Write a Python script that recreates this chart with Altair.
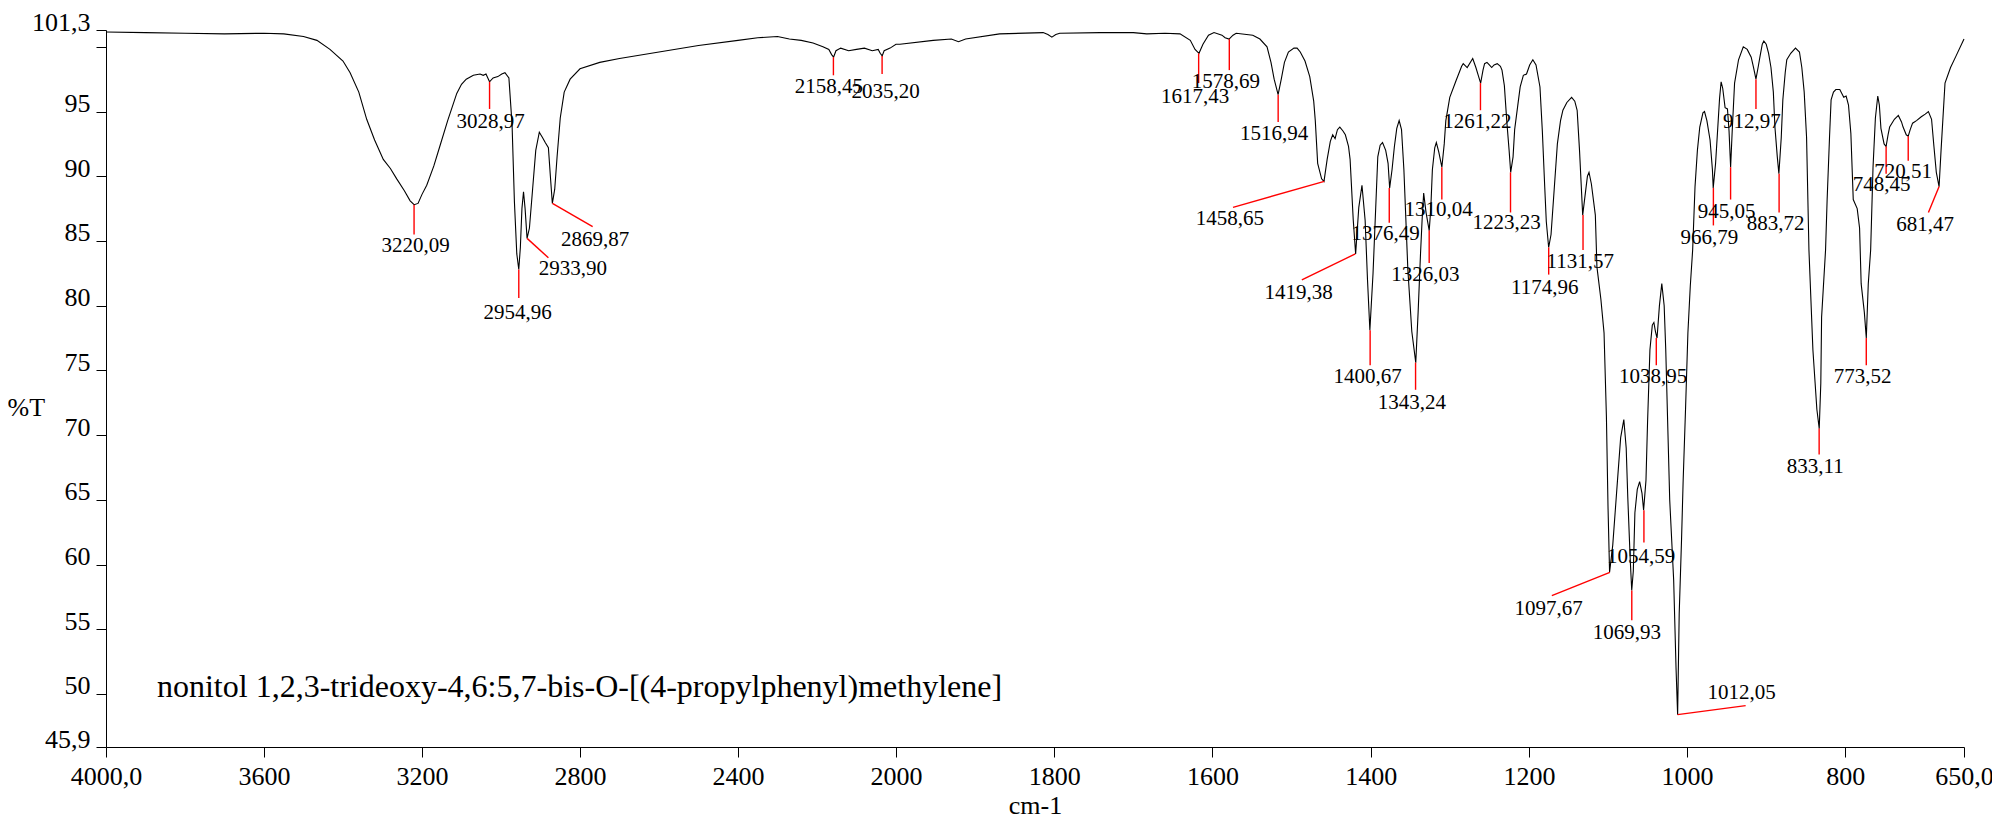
import altair as alt
import pandas as pd

# ---- spectrum (wavenumber cm-1, %T) ----
WN = [4000, 3900, 3800, 3700, 3600, 3550, 3500, 3466, 3433, 3400, 3382, 3360, 3340, 3320, 3298,
      3280, 3264, 3245, 3230, 3220, 3210, 3200, 3188, 3170, 3155, 3135, 3112, 3100, 3088, 3070,
      3053, 3045, 3038, 3029, 3020, 3008, 2998, 2990, 2980, 2972, 2966, 2960, 2955, 2951, 2947,
      2943, 2939, 2934, 2928, 2920, 2912, 2903, 2895, 2888, 2880, 2875, 2870, 2864, 2858, 2850,
      2840, 2825, 2800, 2750, 2700, 2600, 2500, 2400, 2350, 2300, 2270, 2240, 2210, 2185, 2170,
      2163, 2158, 2152, 2140, 2120, 2100, 2080, 2060, 2045, 2040, 2035, 2030, 2015, 2000, 1995,
      1953, 1930, 1921, 1912, 1869, 1814, 1808, 1803, 1798, 1793, 1742, 1700, 1683, 1660, 1641,
      1628, 1622, 1617, 1612, 1605, 1598, 1588, 1584, 1579, 1574, 1570, 1549, 1540, 1531, 1526,
      1522, 1517, 1513, 1509, 1504, 1497, 1493, 1489, 1483, 1477, 1472, 1470, 1467, 1462, 1459,
      1455, 1451, 1448, 1445, 1442, 1439, 1435, 1432, 1428, 1426, 1422, 1419, 1415, 1411, 1407,
      1404, 1401, 1397, 1394, 1391, 1388, 1385, 1381, 1378, 1376, 1373, 1370, 1367, 1364, 1361,
      1358, 1353, 1348, 1343, 1340, 1337, 1335, 1333, 1330, 1326, 1324, 1322, 1319, 1317, 1314,
      1310, 1307, 1305, 1300, 1292, 1285, 1283, 1278, 1271, 1267, 1264, 1261, 1258, 1256, 1253,
      1250, 1247, 1244, 1240, 1236, 1234, 1231, 1228, 1225, 1223, 1220, 1218, 1214, 1211, 1207,
      1203, 1199, 1195, 1191, 1186, 1183, 1180, 1178, 1175, 1172, 1168, 1164, 1160, 1157, 1152,
      1146, 1142, 1139, 1136, 1132, 1129, 1126, 1124, 1121, 1116, 1114, 1109, 1105, 1102, 1100,
      1098, 1094, 1091, 1088, 1084, 1080, 1077, 1075, 1072, 1070, 1068, 1066, 1063, 1060, 1057,
      1055, 1052, 1050, 1047, 1044, 1042, 1040, 1038, 1035, 1032, 1029, 1027, 1022, 1017, 1014,
      1012, 1010, 1007, 1005, 1002, 999, 996, 993, 990, 987, 984, 980, 978, 975, 971,
      968, 967, 964, 962, 959, 957, 955, 952, 949, 947, 945, 943, 940, 935, 929,
      924, 919, 916, 913, 910, 908, 905, 903, 900, 897, 894, 891, 889, 886, 884,
      881, 879, 876, 874, 869, 863, 858, 855, 852, 849, 846, 841, 836, 833, 831,
      830, 825, 823, 820, 818, 815, 812, 807, 802, 799, 796, 793, 790, 785, 782,
      780, 776, 773.5, 771, 768, 765, 762, 759, 757, 755, 751, 748.5, 746, 744, 738,
      733, 729, 727, 723, 720.5, 718, 715, 710, 704, 699, 695, 691, 688, 685, 681.5,
      679, 674, 667, 660, 650]
T = [101.15, 101.1, 101.05, 101.0, 101.05, 101.0, 100.8, 100.5, 99.8, 98.9, 98.0, 96.5, 94.4, 92.8, 91.3,
     90.6, 89.8, 88.9, 88.1, 87.8, 87.9, 88.6, 89.3, 90.8, 92.3, 94.3, 96.4, 97.1, 97.5, 97.8,
     97.9, 97.8, 97.9, 97.3, 97.6, 97.7, 97.9, 98.0, 97.6, 94.0, 88.0, 84.0, 82.8, 84.5, 87.5,
     88.8, 87.5, 85.2, 86.0, 89.0, 92.0, 93.4, 93.0, 92.6, 92.2, 90.0, 87.9, 89.0, 91.5, 94.5,
     96.5, 97.5, 98.3, 98.8, 99.1, 99.6, 100.1, 100.5, 100.7, 100.8, 100.6, 100.5, 100.3, 100.0, 99.8,
     99.4, 99.2, 99.7, 99.9, 99.7, 99.8, 99.9, 99.7, 99.8, 99.5, 99.3, 99.7, 99.9, 100.2, 100.2,
     100.5, 100.6, 100.4, 100.6, 101.0, 101.1, 100.95, 100.75, 100.95, 101.05, 101.1, 101.1, 101.0, 101.05, 101.0,
     100.5, 99.8, 99.5, 100.2, 100.9, 101.1, 100.9, 100.7, 100.6, 100.9, 101.05, 100.9, 100.6, 100.0, 98.8,
     97.5, 96.3, 97.5, 98.8, 99.6, 99.9, 99.9, 99.6, 98.9, 97.7, 95.8, 94.3, 91.0, 89.8, 89.6,
     91.3, 92.7, 93.2, 92.9, 93.6, 93.8, 93.5, 93.2, 92.3, 91.3, 86.6, 84.0, 87.6, 89.3, 86.6,
     82.0, 78.1, 82.5, 87.0, 91.5, 92.4, 92.6, 92.0, 91.0, 89.1, 90.5, 92.3, 93.7, 94.3, 93.6,
     90.5, 82.8, 78.0, 75.6, 79.5, 84.0, 86.6, 88.7, 87.2, 85.8, 87.5, 90.5, 92.2, 92.6, 91.9,
     90.7, 92.5, 94.3, 96.1, 97.4, 98.5, 98.7, 98.4, 99.1, 98.4, 97.8, 97.2, 98.2, 98.7, 98.8,
     98.6, 98.4, 98.6, 98.7, 98.5, 98.2, 97.0, 94.3, 92.0, 90.3, 91.5, 93.6, 95.5, 96.9, 97.8,
     97.9, 98.6, 99.0, 98.6, 96.9, 93.5, 89.2, 86.5, 84.5, 85.5, 89.0, 92.5, 94.3, 95.1, 95.7,
     96.1, 95.8, 95.1, 92.0, 87.0, 88.5, 90.0, 90.3, 89.4, 87.0, 83.0, 80.5, 77.9, 71.4, 64.5,
     59.4, 61.5, 64.0, 66.5, 69.8, 71.2, 69.0, 65.2, 60.5, 58.0, 59.5, 64.0, 65.8, 66.4, 65.5,
     64.2, 66.5, 71.0, 76.6, 78.5, 78.7, 78.0, 77.5, 80.0, 81.7, 80.0, 76.6, 65.0, 58.8, 52.0,
     48.4, 56.2, 62.0, 66.5, 72.0, 77.9, 81.5, 84.3, 89.2, 92.0, 93.8, 94.9, 95.0, 94.3, 92.8,
     90.5, 89.1, 91.0, 93.0, 96.0, 97.3, 96.8, 95.3, 95.2, 93.5, 90.7, 93.5, 97.2, 99.0, 100.0,
     99.8, 99.2, 98.4, 97.5, 98.5, 99.2, 100.2, 100.45, 100.2, 99.5, 98.4, 96.5, 93.8, 91.5, 90.2,
     93.0, 95.9, 98.0, 99.0, 99.5, 99.9, 99.6, 98.4, 96.5, 93.0, 84.3, 76.6, 72.0, 70.5, 74.0,
     79.1, 84.3, 88.2, 93.0, 95.9, 96.5, 96.7, 96.7, 96.1, 96.2, 95.5, 93.3, 88.2, 87.5, 86.0,
     81.7, 79.5, 77.5, 81.7, 84.3, 90.7, 94.5, 96.2, 95.5, 93.7, 92.5, 92.3, 93.2, 93.8, 94.4,
     94.7, 94.2, 93.8, 93.2, 93.1, 93.6, 94.1, 94.3, 94.6, 94.8, 95.0, 94.4, 92.3, 90.3, 89.2,
     92.0, 97.2, 98.4, 99.3, 100.6]

# ---- peak annotations ----
PEAK_LABEL = ["3220,09", "3028,97", "2954,96", "2933,90", "2869,87", "2158,45", "2035,20",
              "1617,43", "1578,69", "1516,94", "1458,65", "1419,38", "1400,67", "1376,49",
              "1343,24", "1326,03", "1310,04", "1261,22", "1223,23", "1174,96", "1131,57",
              "1097,67", "1069,93", "1054,59", "1038,95", "1012,05", "966,79", "945,05",
              "912,97", "883,72", "833,11", "773,52", "748,45", "720,51", "681,47"]
PEAK_WN = [3220.09, 3028.97, 2954.96, 2933.90, 2869.87, 2158.45, 2035.20,
           1617.43, 1578.69, 1516.94, 1458.65, 1419.38, 1400.67, 1376.49,
           1343.24, 1326.03, 1310.04, 1261.22, 1223.23, 1174.96, 1131.57,
           1097.67, 1069.93, 1054.59, 1038.95, 1012.05, 966.79, 945.05,
           912.97, 883.72, 833.11, 773.52, 748.45, 720.51, 681.47]
PEAK_T = [87.8, 97.3, 82.8, 85.2, 87.9, 99.2, 99.3,
          99.5, 100.6, 96.3, 89.6, 84.0, 78.1, 89.1,
          75.6, 85.8, 90.7, 97.2, 90.3, 84.5, 87.0,
          59.4, 58.0, 64.2, 77.5, 48.4, 89.1, 90.7,
          97.5, 90.2, 70.5, 77.5, 92.3, 93.1, 89.2]
LEAD_WN = [3220.09, 3028.97, 2954.96, 2880.0, 2768.0, 2158.45, 2035.20,
           1617.43, 1578.69, 1516.94, 1574.0, 1487.0, 1400.67, 1376.49,
           1343.24, 1326.03, 1310.04, 1261.22, 1223.23, 1174.96, 1131.57,
           1171.0, 1069.93, 1054.59, 1038.95, 926.0, 966.79, 945.05,
           912.97, 883.72, 833.11, 773.52, 748.45, 720.51, 695.0]
LEAD_T = [85.5, 95.2, 80.6, 83.7, 86.1, 97.8, 97.9,
          97.2, 98.2, 94.2, 87.6, 82.0, 75.4, 86.4,
          73.5, 83.3, 88.2, 95.1, 87.2, 82.4, 84.3,
          57.6, 55.7, 61.7, 75.4, 49.1, 86.2, 88.2,
          95.2, 87.2, 68.5, 75.4, 90.2, 91.2, 87.2]
TEXT_WN = [3216, 3026, 2958, 2818, 2762, 2170, 2026,
           1622, 1583, 1522, 1578, 1491, 1404, 1381,
           1348, 1331, 1314, 1265, 1228, 1180, 1135,
           1175, 1076, 1058, 1043, 931, 972, 950,
           918, 888, 838, 778, 754, 727, 699]
TEXT_T = [84.6, 94.2, 79.4, 82.8, 85.1, 96.9, 96.5,
          96.1, 97.3, 93.3, 86.7, 81.0, 74.5, 85.5,
          72.5, 82.4, 87.4, 94.2, 86.4, 81.4, 83.4,
          56.6, 54.7, 60.6, 74.5, 50.1, 85.2, 87.2,
          94.2, 86.3, 67.5, 74.5, 89.3, 90.3, 86.2]

X_TICKS = [4000, 3600, 3200, 2800, 2400, 2000, 1800, 1600, 1400, 1200, 1000, 800, 650]
Y_TICKS = [45.9, 50, 55, 60, 65, 70, 75, 80, 85, 90, 95, 100, 101.3]
SAMPLE = ["nonitol 1,2,3-trideoxy-4,6:5,7-bis-O-[(4-propylphenyl)methylene]"]
SAMPLE_WN = [3871]
SAMPLE_T = [49.75]

FONT = "Liberation Serif"

spec = pd.DataFrame({"wn": WN, "t": T})
peaks = pd.DataFrame({"label": PEAK_LABEL, "pwn": PEAK_WN, "pt": PEAK_T,
                      "lwn": LEAD_WN, "lt": LEAD_T, "twn": TEXT_WN, "tt": TEXT_T})
sample = pd.DataFrame({"txt": SAMPLE, "wn": SAMPLE_WN, "t": SAMPLE_T})

xscale = alt.Scale(domain=[4000, 2000, 650], range=[0, 790, 1858], nice=False, zero=False)
yscale = alt.Scale(domain=[45.9, 101.3], nice=False, zero=False)

xaxis = alt.Axis(values=X_TICKS,
                 labelExpr="datum.value == 4000 ? '4000,0' : datum.value == 650 ? '650,0' : '' + datum.value",
                 title="cm-1", grid=False, tickSize=10, labelPadding=6, labelFlush=False,
                 labelOverlap=False, labelFontSize=26, titleFontSize=26, titleFontWeight="normal",
                 titleY=66, titleBaseline="alphabetic")
yaxis = alt.Axis(values=Y_TICKS,
                 labelExpr="datum.value == 45.9 ? '45,9' : datum.value == 101.3 ? '101,3' : datum.value == 100 ? '' : '' + datum.value",
                 title="%T", grid=False, tickSize=10, labelPadding=6, labelFlush=False,
                 labelOverlap=False, labelBaseline="alphabetic", labelFontSize=26,
                 titleFontSize=26, titleFontWeight="normal", titleAngle=0, titleAlign="left",
                 titleX=-99, titleY=385, titleBaseline="alphabetic")

line = alt.Chart(spec).mark_line(color="black", strokeWidth=1.1).encode(
    x=alt.X("wn:Q", scale=xscale, axis=xaxis),
    y=alt.Y("t:Q", scale=yscale, axis=yaxis),
    order=alt.Order("wn:Q", sort="descending"),
)

leaders = alt.Chart(peaks).mark_rule(color="#ff0000", strokeWidth=1.4).encode(
    x=alt.X("pwn:Q", scale=xscale), y=alt.Y("pt:Q", scale=yscale),
    x2="lwn:Q", y2="lt:Q",
)

texts = alt.Chart(peaks).mark_text(font=FONT, fontSize=21, align="center", baseline="middle",
                                   color="black").encode(
    x=alt.X("twn:Q", scale=xscale), y=alt.Y("tt:Q", scale=yscale), text="label:N",
)

sample_text = alt.Chart(sample).mark_text(font=FONT, fontSize=32, align="left",
                                          baseline="alphabetic", color="black").encode(
    x=alt.X("wn:Q", scale=xscale), y=alt.Y("t:Q", scale=yscale), text="txt:N",
)

chart = alt.layer(line, leaders, texts, sample_text).properties(
    width=1858, height=717,
    autosize=alt.AutoSizeParams(type="none"),
    padding={"left": 98, "top": 22, "right": 28, "bottom": 75},
).configure_view(stroke=None).configure_axis(
    domainColor="black", tickColor="black", labelColor="black", titleColor="black",
    labelFont=FONT, titleFont=FONT, domainWidth=1, tickWidth=1,
)

chart.save("out.html", embed_options={"renderer": "svg", "actions": False})
